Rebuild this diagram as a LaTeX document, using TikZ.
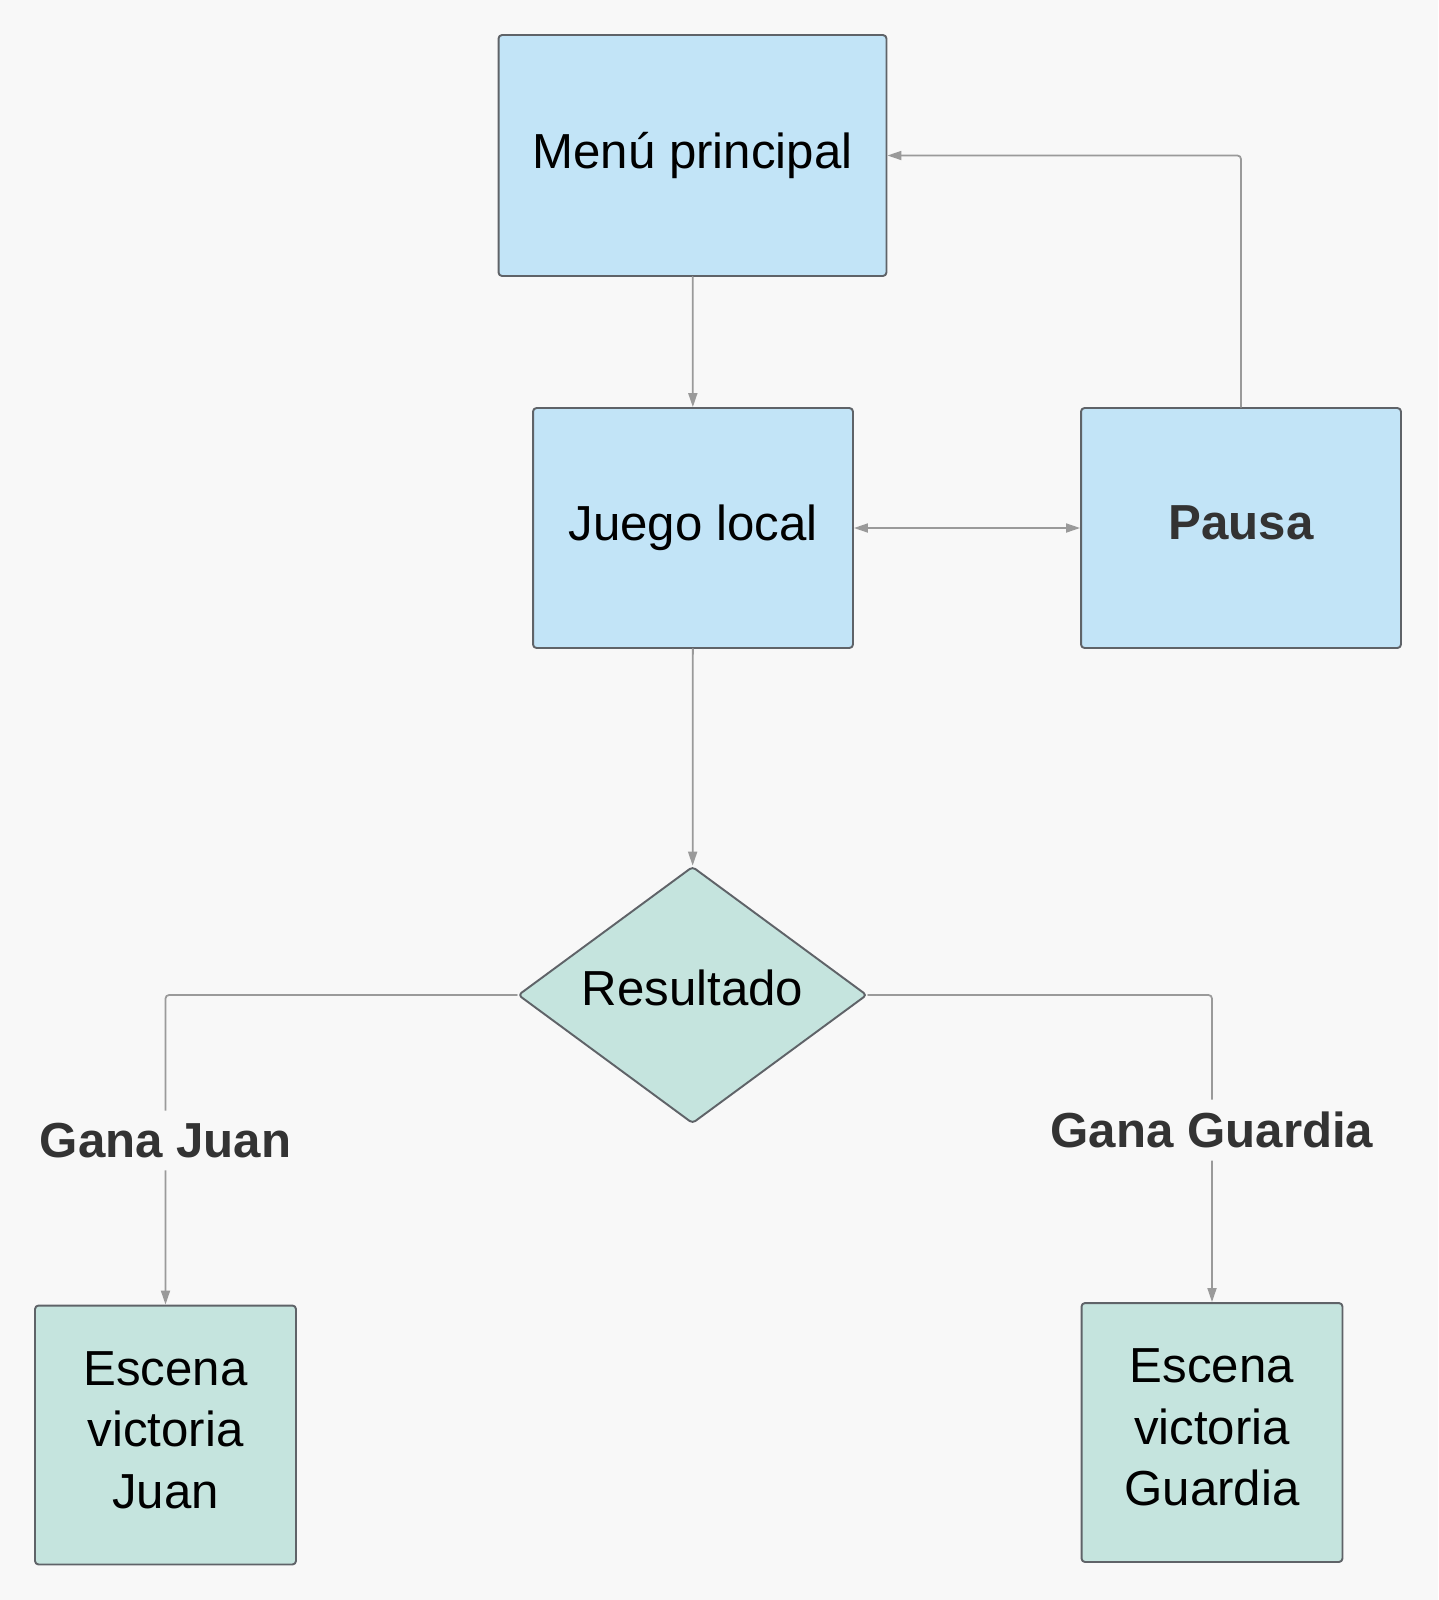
\documentclass[tikz,border=0pt]{standalone}
\usepackage{fontspec}
\setmainfont{Liberation Sans}
\usetikzlibrary{shapes.geometric, arrows.meta}
\definecolor{bgcolor}{HTML}{F8F8F8}
\definecolor{bluefill}{HTML}{C2E4F7}
\definecolor{greenfill}{HTML}{C5E4DE}
\definecolor{boxborder}{HTML}{5F6368}
\definecolor{linkgray}{HTML}{9A9A9A}
\definecolor{labeltext}{HTML}{333333}
\begin{document}
\begin{tikzpicture}[x=0.02cm, y=-0.02cm, line cap=round, line join=round,
	box/.style={draw=boxborder, line width=1.1pt, rounded corners=2pt, inner sep=0pt, align=center, font=\fontsize{28}{35}\selectfont},
	link/.style={draw=linkgray, line width=1pt, -{Triangle[length=0.28cm, width=0.18cm]}},
	tag/.style={fill=bgcolor, text=labeltext, inner xsep=0pt, inner ysep=0.25cm, font=\fontsize{28}{35}\selectfont\bfseries}]
	% Background
	\fill [bgcolor] (0, 0) rectangle (1438, 1600);
	\useasboundingbox (0, 0) rectangle (1438, 1600);
	% First layer
	\node [box, fill=bluefill, minimum width=7.76cm, minimum height=4.82cm] (menu) at (692.5, 155.5) {Menú principal};
	% Second layer
	\node [box, fill=bluefill, minimum width=6.4cm, minimum height=4.8cm] (juego) at (693, 528) {Juego local};
	\node [box, fill=bluefill, minimum width=6.4cm, minimum height=4.8cm, text depth=0.2cm, text=labeltext, font=\fontsize{28}{35}\selectfont\bfseries] (pausa) at (1241, 528) {Pausa};
	% Decision
	\node [box, diamond, aspect=1.36, fill=greenfill, minimum width=6.98cm, minimum height=5.14cm, text depth=0.28cm] (resultado) at (692.5, 995) {Resultado};
	% Last layer
	\node [box, fill=greenfill, minimum width=5.22cm, minimum height=5.18cm, text depth=0.2cm] (escena-1) at (165.5, 1435) {Escena\\victoria\\Juan};
	\node [box, fill=greenfill, minimum width=5.22cm, minimum height=5.18cm, text depth=0.2cm] (escena-2) at (1212, 1432.5) {Escena\\victoria\\Guardia};
	% Arrows
	\draw [link] (menu) -- (juego);
	\draw [link, {Triangle[length=0.28cm, width=0.18cm]}-{Triangle[length=0.28cm, width=0.18cm]}] (juego) -- (pausa);
	\draw [link, rounded corners=2pt] (pausa.north) |- (menu.east);
	\draw [link] (juego) -- (resultado);
	\draw [link, rounded corners=2pt] (resultado.west) -| node [tag, pos=0.735] (gana-1) {Gana Juan} (escena-1.north);
	\draw [link, rounded corners=2pt] (resultado.east) -| node [tag, pos=0.72] (gana-2) {Gana Guardia} (escena-2.north);
\end{tikzpicture}
\end{document}
